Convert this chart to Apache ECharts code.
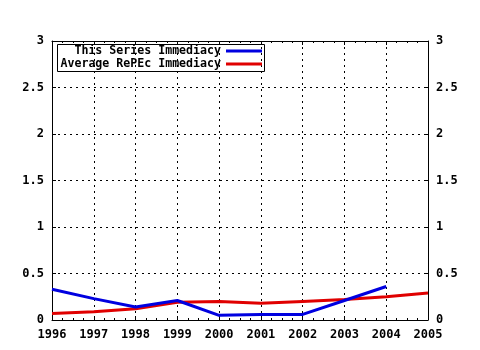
<!DOCTYPE html>
<html>
<head>
<meta charset="utf-8">
<script src="https://cdn.jsdelivr.net/npm/echarts@6/dist/echarts.min.js"></script>
<style>
  html, body { margin: 0; padding: 0; background: #fff; }
  #chart { width: 480px; height: 350px; }
</style>
</head>
<body>
<div id="chart"></div>
<script>
// data
const years = [1996, 1997, 1998, 1999, 2000, 2001, 2002, 2003, 2004, 2005]
const seriesImmediacy = [0.33, 0.23, 0.14, 0.21, 0.05, 0.06, 0.06, 0.21, 0.36]
const repecImmediacy = [0.07, 0.09, 0.12, 0.19, 0.20, 0.18, 0.20, 0.22, 0.25, 0.29]
const yTicks = [0, 0.5, 1, 1.5, 2, 2.5, 3]

const font = 'DejaVu Sans Mono'
const pairs = vals => vals.map((v, i) => [years[i], v])

const chart = echarts.init(document.getElementById('chart'))

const gridLine = { show: true, lineStyle: { color: '#000', type: [2, 4], width: 1 } }
const label = { color: '#000', fontFamily: font, fontWeight: 'bold', fontSize: 12 }
const legendText = Object.assign({}, label, { fontSize: 11.6 })

const yAxisBase = {
  type: 'value', min: yTicks[0], max: yTicks[yTicks.length - 1], interval: 0.5,
  axisLine: { show: true, lineStyle: { color: '#000', width: 1 } },
  axisTick: { show: true, inside: true, length: 4, lineStyle: { color: '#000' } },
  axisLabel: Object.assign({ margin: 8, formatter: v => String(v) }, label),
  splitLine: { show: false }
}

chart.setOption({
  animation: false,
  grid: { left: 52, right: 52, top: 41, bottom: 30 },
  legend: [
    {
      data: ['This Series Immediacy'], orient: 'vertical', right: 218, top: 45,
      align: 'right', padding: 0, itemWidth: 36, itemHeight: 3, icon: 'rect',
      textStyle: legendText
    },
    {
      data: ['Average RePEc Immediacy'], orient: 'vertical', right: 218, top: 58,
      align: 'right', padding: 0, itemWidth: 36, itemHeight: 3, icon: 'rect',
      textStyle: legendText
    }
  ],
  graphic: [{
    type: 'rect', shape: { x: 57.5, y: 44.5, width: 207, height: 27 },
    style: { fill: 'none', stroke: '#000', lineWidth: 1 }, z: 10
  }],
  xAxis: [
    {
      type: 'value', min: years[0], max: years[years.length - 1], interval: 1,
      axisLine: { show: true, onZero: false, lineStyle: { color: '#000' } },
      axisTick: { show: true, inside: true, length: 4, lineStyle: { color: '#000' } },
      minorTick: { show: true, splitNumber: 4, length: 2, lineStyle: { color: '#000' } },
      axisLabel: Object.assign({ margin: 9, formatter: v => String(v) }, label),
      splitLine: gridLine
    },
    {
      type: 'value', position: 'top', min: years[0], max: years[years.length - 1], interval: 1,
      axisLine: { show: true, onZero: false, lineStyle: { color: '#000' } },
      axisTick: { show: true, inside: true, length: 4, lineStyle: { color: '#000' } },
      minorTick: { show: true, splitNumber: 4, length: 2, lineStyle: { color: '#000' } },
      axisLabel: { show: false },
      splitLine: { show: false }
    }
  ],
  yAxis: [
    Object.assign({}, yAxisBase, { position: 'left', splitLine: gridLine }),
    Object.assign({}, yAxisBase, { position: 'right' })
  ],
  series: [
    {
      name: 'This Series Immediacy', type: 'line', data: pairs(seriesImmediacy),
      symbol: 'none', color: '#0000e0', lineStyle: { width: 3, color: '#0000e0' }, z: 3
    },
    {
      name: 'Average RePEc Immediacy', type: 'line', data: pairs(repecImmediacy),
      symbol: 'none', color: '#e00000', lineStyle: { width: 3, color: '#e00000' }, z: 2
    }
  ]
})
</script>
</body>
</html>
